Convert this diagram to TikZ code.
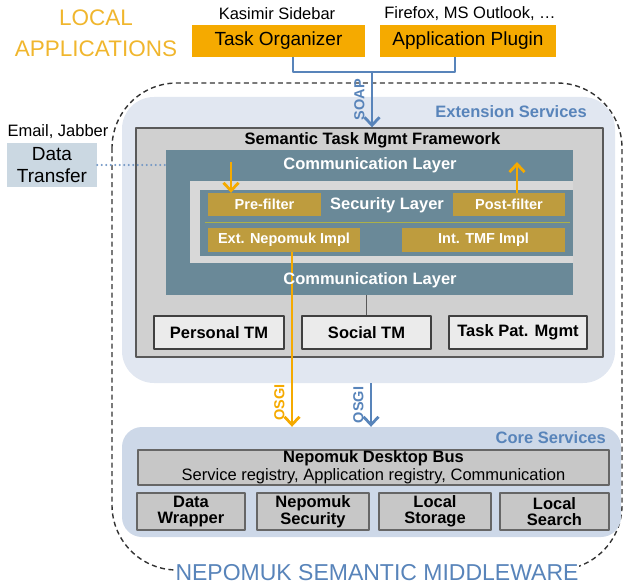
\documentclass[tikz,border=0pt]{standalone}
\usepackage{fontspec}
\setmainfont{Liberation Sans}
\usetikzlibrary{arrows.meta}
\definecolor{apporange}{RGB}{245,170,0}
\definecolor{titleorange}{RGB}{240,182,45}
\definecolor{soapblue}{RGB}{88,132,186}
\definecolor{extbgcol}{RGB}{225,231,241}
\definecolor{corebgcol}{RGB}{205,216,232}
\definecolor{frameg}{RGB}{208,208,208}
\definecolor{layerblue}{RGB}{106,137,152}
\definecolor{innerg}{RGB}{216,216,216}
\definecolor{filtergold}{RGB}{190,156,62}
\definecolor{sepolive}{RGB}{172,176,72}
\definecolor{transferbg}{RGB}{203,216,226}
\begin{document}
\begin{tikzpicture}[x=1pt,y=-1pt,line join=round,>={Straight Barb[length=8pt,width=15pt]},
	appbox/.style={fill=apporange,minimum height=32pt,inner sep=0pt,font=\fontsize{19}{22}\selectfont},
	note/.style={inner sep=0pt,font=\fontsize{16.5}{19}\selectfont},
	layer/.style={fill=layerblue,inner sep=0pt},
	layertext/.style={text=white,inner sep=0pt,font=\fontsize{16.5}{19}\selectfont\bfseries},
	filterbox/.style={fill=filtergold,text=white,minimum height=23pt,inner sep=0pt,font=\fontsize{14.5}{17}\selectfont\bfseries},
	tmbox/.style={draw=black!75,line width=1.4pt,fill=black!8,minimum height=33pt,inner sep=0pt,font=\fontsize{16.5}{19}\selectfont\bfseries},
	corebox/.style={draw=black!60,line width=1.9pt,fill=black!22,minimum height=37pt,inner sep=0pt,align=center,font=\fontsize{16.5}{16.5}\selectfont\bfseries},
	soap/.style={draw=soapblue,line width=2.8pt},
	osgi/.style={draw=apporange,line width=2.8pt},
	vlabel/.style={rotate=90,anchor=south,inner sep=6pt,font=\fontsize{14.5}{16}\selectfont\bfseries}] %Nepomuk middleware
	\useasboundingbox (0,0) rectangle (623,588);
	\draw[black!80,line width=1.4pt,dash pattern=on 5pt off 3.5pt,rounded corners=65pt] (112,83) rectangle (622,570);
	\node[fill=white,inner sep=1pt,text=soapblue,font=\fontsize{23}{26}\selectfont] (mw) at (377,573) {NEPOMUK SEMANTIC MIDDLEWARE};
	% local applications
	\node[align=center,text=titleorange,font=\fontsize{22.5}{31}\selectfont] (local) at (96,33) {LOCAL\\APPLICATIONS};
	\node[appbox,minimum width=173pt] (taskorg) at (278.5,41) {Task Organizer};
	\node[appbox,minimum width=176pt] (appplug) at (468,41) {Application Plugin};
	\node[note] (kasimir) at (277,14) {Kasimir Sidebar};
	\node[note] (firefox) at (470,14) {Firefox, MS Outlook, …};
	% extension services
	\node[fill=extbgcol,rounded corners=32pt,minimum width=493pt,minimum height=286pt] (ext) at (368.5,240) {};
	\node[anchor=east,inner sep=0pt,text=soapblue,font=\fontsize{16.5}{19}\selectfont\bfseries] (extlabel) at (587,112) {Extension Services};
	\node[draw=black!65,line width=1.4pt,fill=frameg,minimum width=467pt,minimum height=229pt] (tmf) at (369.5,242.5) {};
	\node[inner sep=0pt,font=\fontsize{16.5}{19}\selectfont\bfseries] (tmftitle) at (372.5,140) {Semantic Task Mgmt Framework};
	\node[layer,minimum width=407pt,minimum height=145pt] (comm) at (369.5,222.5) {};
	\node[fill=innerg,inner sep=0pt,minimum width=383pt,minimum height=82pt] (inner) at (381.5,222) {};
	\node[layer,minimum width=373pt,minimum height=66pt] (security) at (386.5,223) {};
	\node[layertext] (commtop) at (370,165) {Communication Layer};
	\node[layertext] (seclabel) at (387,205) {Security Layer};
	\draw[sepolive,line width=1.2pt] (205,222.5) -- (570,222.5);
	\node[filterbox,minimum width=113pt] (prefilter) at (264.5,204.5) {Pre-filter};
	\node[filterbox,minimum width=112pt] (postfilter) at (509,204.5) {Post-filter};
	\node[filterbox,minimum width=152pt,minimum height=24pt] (extimpl) at (284,240) {Ext. Nepomuk Impl};
	\node[filterbox,minimum width=163pt,minimum height=24pt] (intimpl) at (483.5,240) {Int. TMF Impl};
	\node[tmbox,minimum width=130pt] (personal) at (219,332.5) {Personal TM};
	\node[tmbox,minimum width=129pt] (social) at (366.5,332.5) {Social TM};
	\node[tmbox,minimum width=138pt] (taskpat) at (518,332.5) {Task Pat. Mgmt};
	\draw[black!65,line width=1.4pt] (social.north) -- (social.north |- comm.south);
	\coordinate (prein) at (231,162);
	\coordinate (postout) at (517,162);
	\draw[osgi,->] (prein) -- (prein |- prefilter.north);
	\draw[osgi,->] (postout |- postfilter.north) -- (postout);
	% data transfer
	\node[fill=transferbg,inner sep=0pt,minimum width=90pt,minimum height=44pt,align=center,font=\fontsize{19}{22}\selectfont] (transfer) at (52,165) {Data\\Transfer};
	\node[note] (email) at (58,132) {Email, Jabber};
	\draw[soapblue!85,line width=2.2pt,line cap=round,dash pattern=on 0pt off 4.5pt] (transfer.east) -- (transfer.east -| comm.west);
	% core services
	\node[fill=corebgcol,rounded corners=20pt,minimum width=499pt,minimum height=110pt] (core) at (371.5,482) {};
	\node[anchor=east,inner sep=0pt,text=soapblue,font=\fontsize{16.5}{19}\selectfont\bfseries] (corelabel) at (606,438) {Core Services};
	\node[draw=black!60,line width=1.9pt,fill=black!22,minimum width=471pt,minimum height=35pt,inner sep=0pt,align=center,font=\fontsize{16.5}{18}\selectfont] (bus) at (373.5,467.5) {\textbf{Nepomuk Desktop Bus}\\Service registry, Application registry, Communication};
	\node[corebox,minimum width=108pt] (wrapper) at (191,511.5) {Data\\Wrapper};
	\node[corebox,minimum width=112pt] (nsec) at (313,511.5) {Nepomuk\\Security};
	\node[corebox,minimum width=112pt] (storage) at (435,511.5) {Local\\Storage};
	\node[corebox,minimum width=109pt] (search) at (554.5,511.5) {Local\\Search};
	% connectors
	\coordinate (soapjoin) at (372,72);
	\draw[soap] (taskorg.south -| 293,0) |- (soapjoin) -| (appplug.south -| 455,0);
	\draw[soap,->] (soapjoin) -- (soapjoin |- tmf.north) node[midway,vlabel,text=soapblue] {SOAP};
	\draw[osgi,->] (extimpl.south -| 292,0) -- (292,0 |- core.north) node[pos=.86,vlabel,text=apporange] {OSGI};
	\draw[soap,->] (371,0 |- ext.south) -- (371,0 |- core.north) node[midway,vlabel,text=soapblue] {OSGI};
	\node[layertext] (commbot) at (370,280) {Communication Layer};
	%\draw[soap] (transfer.north) -- (email.south);
\end{tikzpicture}
\end{document}
